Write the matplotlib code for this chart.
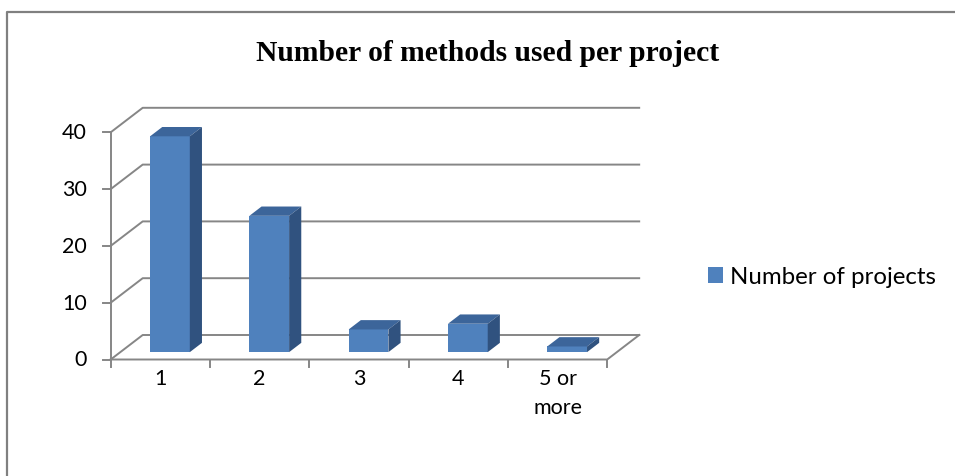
import matplotlib.pyplot as plt
from matplotlib.patches import Polygon
from matplotlib.lines import Line2D

# data
categories = ['1', '2', '3', '4', '5 or\nmore']
values = [38, 24, 4, 5, 1]
yticks = [0, 10, 20, 30, 40]
series_name = 'Number of projects'
title = 'Number of methods used per project'

# colours
face_col = '#4F81BD'
top_col = '#3C659A'
side_col = '#30527F'
grid_col = '#868686'

W, H = 955, 477
fig = plt.figure(figsize=(W / 100, H / 100), dpi=100)
ax = fig.add_axes([0, 0, 1, 1])

# pixel layout of the pseudo-3D plot (front plane)
x0_px, y0_px = 110.7, 360.5     # front-left corner of floor
cat_px, unit_px = 99.3, 5.68    # px per category, px per value unit
ax.set_xlim(-0.5 - x0_px / cat_px, (W - x0_px) / cat_px - 0.5)
ax.set_ylim((y0_px - H) / unit_px, y0_px / unit_px)
ax.axis('off')

# depth offset of the back wall, in data units
DX, DY = 32 / cat_px, 24.5 / unit_px
n = len(categories)
xl, xr = -0.5, n - 0.5

lw = 1.4
# back wall gridlines with left-wall diagonals
for v in yticks:
    ax.plot([xl, xl + DX, xr + DX], [v, v + DY, v + DY], color=grid_col, lw=lw, zorder=1)
# floor front edge and right edge
ax.plot([xl, xr, xr + DX], [0, 0, DY], color=grid_col, lw=lw, zorder=1)
# front vertical axis with ticks
ax.plot([xl, xl], [0, yticks[-1]], color=grid_col, lw=lw, zorder=1)
for v in yticks:
    ax.plot([xl - 8 / cat_px, xl], [v, v], color=grid_col, lw=lw, zorder=1)
    ax.text(xl - 24 / cat_px, v, str(v), ha='right', va='center',
            fontsize=15.5, family='Lato', color='black')
# x ticks on the floor front edge
for i in range(n + 1):
    ax.plot([xl + i, xl + i], [0, -7 / unit_px], color=grid_col, lw=lw, zorder=1)

# bars: front face + top + side
f0, d = 0.30, 0.38
bw = 0.40
b = f0 * DY
bars = ax.bar([i + f0 * DX for i in range(n)], values, width=bw, bottom=b,
              color=face_col, zorder=3, label=series_name)
for i, v in enumerate(values):
    l = i + f0 * DX - bw / 2
    r = l + bw
    t = v + b
    top = Polygon([(l, t), (r, t), (r + d * DX, t + d * DY), (l + d * DX, t + d * DY)],
                  closed=True, facecolor=top_col, edgecolor='none', zorder=3)
    side = Polygon([(r, b), (r, t), (r + d * DX, t + d * DY), (r + d * DX, b + d * DY)],
                   closed=True, facecolor=side_col, edgecolor='none', zorder=3)
    ax.add_patch(top)
    ax.add_patch(side)

# category labels
for i, c in enumerate(categories):
    ax.text(i, -9 / unit_px, c, ha='center', va='top', fontsize=15.5,
            family='Lato', linespacing=1.55)

# title
fig.text(488 / W, 1 - 61 / H, title, ha='center', va='baseline', fontsize=21.3,
         family='Liberation Serif', fontweight='bold')

# legend
fig.legend(handles=[bars], loc='center left', bbox_to_anchor=(708 / W, 1 - 278 / H),
           frameon=False, borderpad=0, borderaxespad=0, handlelength=0.62,
           handleheight=0.62, handletextpad=0.3, prop={'family': 'Lato', 'size': 17.3})

# outer border (top and left)
fig.add_artist(Line2D([7.3 / W, 7.3 / W, 1], [0, 1 - 12.7 / H, 1 - 12.7 / H],
                      transform=fig.transFigure, color='#808080', lw=1.6))

fig.savefig('out.png', dpi=100)
